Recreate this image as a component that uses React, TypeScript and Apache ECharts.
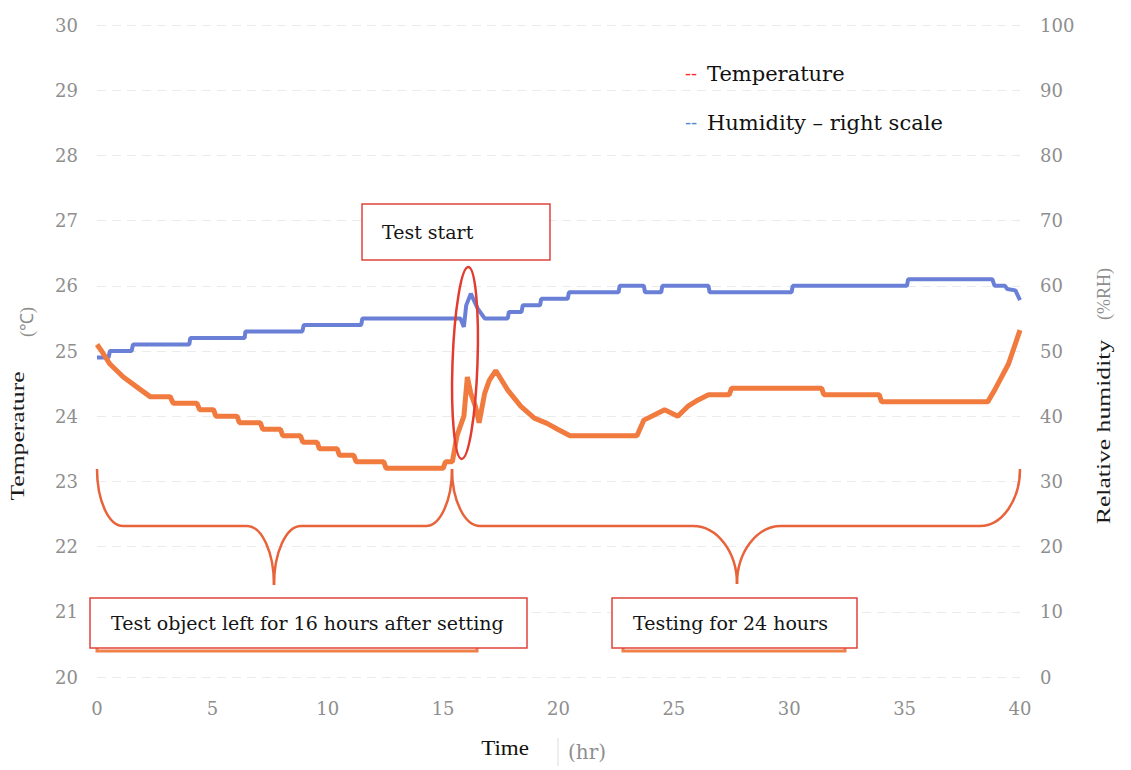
import React, { useEffect, useRef } from "react";
import * as echarts from "echarts";

// ---- data ----
const xTickLabels = ["0", "5", "10", "15", "20", "25", "30", "35", "40"];

const tempTime = [
  0, 0.2, 0.56, 1.14, 1.72, 2.3, 3.17, 3.3, 4.33, 4.45, 5.05, 5.15, 6.07, 6.17, 7.08, 7.18, 7.95,
  8.05, 8.82, 8.92, 9.54, 9.64, 10.41, 10.51, 11.13, 11.23, 12.43, 12.53, 15.0, 15.1, 15.4, 15.6,
  15.9, 16.05, 16.2, 16.4, 16.56, 16.8, 17.0, 17.28, 17.8, 18.37, 18.95, 19.5, 19.96, 20.5, 23.4,
  23.7, 24.15, 24.6, 25.17, 25.6, 26.05, 26.5, 27.4, 27.5, 31.4, 31.5, 33.9, 34.0, 38.6, 38.9,
  39.5, 40,
];
const tempValue = [
  25.1, 25.0, 24.8, 24.6, 24.45, 24.3, 24.3, 24.2, 24.2, 24.1, 24.1, 24.0, 24.0, 23.9, 23.9, 23.8,
  23.8, 23.7, 23.7, 23.6, 23.6, 23.5, 23.5, 23.4, 23.4, 23.3, 23.3, 23.2, 23.2, 23.3, 23.3, 23.7,
  24.0, 24.6, 24.35, 24.15, 23.9, 24.35, 24.55, 24.7, 24.4, 24.15, 23.97, 23.89, 23.8, 23.7, 23.7,
  23.94, 24.02, 24.1, 24.0, 24.15, 24.25, 24.33, 24.33, 24.43, 24.43, 24.33, 24.33, 24.22, 24.22,
  24.4, 24.8, 25.32,
];

const humTime = [
  0, 0.5, 0.56, 1.5, 1.56, 4.0, 4.04, 6.4, 6.43, 8.9, 8.96, 11.45, 11.5, 15.75, 15.9, 16.0, 16.2,
  16.5, 16.8, 17.8, 17.85, 18.4, 18.45, 19.2, 19.25, 20.4, 20.45, 22.6, 22.65, 23.7, 23.75, 24.45,
  24.5, 26.5, 26.55, 30.1, 30.15, 35.1, 35.15, 38.8, 38.9, 39.35, 39.45, 39.8, 40,
];
const humValue = [
  49, 49, 50, 50, 51, 51, 52, 52, 53, 53, 54, 54, 55, 55, 53.7, 57, 58.8, 56.5, 55, 55, 56, 56, 57,
  57, 58, 58, 59, 59, 60, 60, 59, 59, 60, 60, 59, 59, 60, 60, 61, 61, 60, 60, 59.5, 59.3, 57.8,
];

const legendLabels = ["Temperature", "Humidity \u2013 right scale"];
const noteTexts = [
  "Test start",
  "Test object left for 16 hours after setting",
  "Testing for 24 hours",
];

const SERIF = "DejaVu Serif";
const TIMES = "Liberation Serif";
const GRAY = "#8e8e8e";

function brace(
  xL: number, xR: number, xTip: number,
  yTop: number, yMid: number, yTip: number,
  rL: number, rR: number, rTip: number, color: string
) {
  const k = 0.55;
  const style = { stroke: color, lineWidth: 2.5, fill: null as any };
  const dy = yMid - yTop;
  const dt = yTip - yMid;
  return [
    { type: "bezierCurve", z: 50, shape: { x1: xL, y1: yTop, cpx1: xL, cpy1: yTop + k * dy, cpx2: xL + (1 - k) * rL, cpy2: yMid, x2: xL + rL, y2: yMid }, style },
    { type: "line", z: 50, shape: { x1: xL + rL, y1: yMid, x2: xTip - rTip, y2: yMid }, style },
    { type: "bezierCurve", z: 50, shape: { x1: xTip - rTip, y1: yMid, cpx1: xTip - rTip + k * rTip, cpy1: yMid, cpx2: xTip, cpy2: yTip - k * dt, x2: xTip, y2: yTip }, style },
    { type: "bezierCurve", z: 50, shape: { x1: xTip, y1: yTip, cpx1: xTip, cpy1: yTip - k * dt, cpx2: xTip + rTip - k * rTip, cpy2: yMid, x2: xTip + rTip, y2: yMid }, style },
    { type: "line", z: 50, shape: { x1: xTip + rTip, y1: yMid, x2: xR - rR, y2: yMid }, style },
    { type: "bezierCurve", z: 50, shape: { x1: xR - rR, y1: yMid, cpx1: xR - (1 - k) * rR, cpy1: yMid, cpx2: xR, cpy2: yTop + k * dy, x2: xR, y2: yTop }, style },
  ];
}

function box(x: number, y: number, w: number, h: number, text: string, tx: number) {
  return [
    { type: "rect", z: 60, shape: { x, y, width: w, height: h }, style: { fill: "#ffffff", stroke: "#e0443c", lineWidth: 1.5 } },
    { type: "text", z: 61, x: tx, y: y + h / 2, style: { text, fill: "#151515", fontSize: 19, fontFamily: SERIF, align: "left", verticalAlign: "middle" } },
  ];
}

export default function App() {
  const ref = useRef<HTMLDivElement>(null);
  useEffect(() => {
    const chart = echarts.init(ref.current!, null, { renderer: "svg" });
    const labelStyle = { color: GRAY, fontFamily: SERIF, fontSize: 18 };
    chart.setOption({
      animation: false,
      backgroundColor: "#ffffff",
      grid: { left: 97, right: 111, top: 25, bottom: 93 },
      xAxis: {
        type: "value", min: 0, max: 40, interval: 5,
        axisLine: { show: false }, axisTick: { show: false }, splitLine: { show: false },
        axisLabel: { ...labelStyle, margin: 22, formatter: (v: number) => xTickLabels[Math.round(v / 5)] ?? String(v) },
      },
      yAxis: [
        {
          type: "value", min: 20, max: 30, interval: 1,
          axisLine: { show: false }, axisTick: { show: false },
          splitLine: { show: true, lineStyle: { color: "#ebebeb", type: [9, 6], width: 1.2 } },
          axisLabel: { ...labelStyle, margin: 19 },
        },
        {
          type: "value", min: 0, max: 100, interval: 10, position: "right",
          axisLine: { show: false }, axisTick: { show: false }, splitLine: { show: false },
          axisLabel: { ...labelStyle, margin: 20 },
        },
      ],
      series: [
        {
          type: "line", name: "Temperature", yAxisIndex: 0, showSymbol: false, z: 3,
          data: tempTime.map((t, i) => [t, tempValue[i]]),
          lineStyle: { color: "#f17a3f", width: 5 },
        },
        {
          type: "line", name: "Humidity", yAxisIndex: 1, showSymbol: false, z: 2,
          data: humTime.map((t, i) => [t, humValue[i]]),
          lineStyle: { color: "#6a7fd6", width: 4 },
        },
      ],
    });

    const graphics: any[] = [
      // legend
      { type: "text", z: 70, x: 685, y: 73, style: { text: "--", fill: "#ff2a2a", fontSize: 18, fontFamily: SERIF, verticalAlign: "middle" } },
      { type: "text", z: 70, x: 707, y: 74, style: { text: legendLabels[0], fill: "#111", fontSize: 21, fontFamily: SERIF, verticalAlign: "middle" } },
      { type: "text", z: 70, x: 685, y: 122, style: { text: "--", fill: "#4f86d6", fontSize: 18, fontFamily: SERIF, verticalAlign: "middle" } },
      { type: "text", z: 70, x: 707, y: 123, style: { text: legendLabels[1], fill: "#111", fontSize: 21, fontFamily: SERIF, verticalAlign: "middle" } },
      // axis names
      { type: "text", z: 70, x: 18, y: 436, rotation: Math.PI / 2, scaleX: 1.35, style: { text: "Temperature", fill: "#1a1a1a", fontSize: 19, fontFamily: TIMES, align: "center", verticalAlign: "middle" } },
      { type: "text", z: 70, x: 27, y: 322, rotation: Math.PI / 2, style: { text: "(\u2103)", fill: GRAY, fontSize: 18, fontFamily: TIMES, align: "center", verticalAlign: "middle" } },
      { type: "text", z: 70, x: 1104, y: 432, rotation: Math.PI / 2, scaleX: 1.35, style: { text: "Relative humidity", fill: "#1a1a1a", fontSize: 19, fontFamily: TIMES, align: "center", verticalAlign: "middle" } },
      { type: "text", z: 70, x: 1104, y: 294, rotation: Math.PI / 2, style: { text: "(%RH)", fill: GRAY, fontSize: 18, fontFamily: TIMES, align: "center", verticalAlign: "middle" } },
      { type: "text", z: 70, x: 505, y: 749, scaleX: 1.15, style: { text: "Time", fill: "#111", fontSize: 20, fontFamily: TIMES, align: "center", verticalAlign: "middle" } },
      { type: "line", z: 70, shape: { x1: 558, y1: 738, x2: 558, y2: 766 }, style: { stroke: "#dddddd", lineWidth: 1 } },
      { type: "text", z: 70, x: 587, y: 752, style: { text: "(hr)", fill: GRAY, fontSize: 20, fontFamily: SERIF, align: "center", verticalAlign: "middle" } },
      // ellipse around test start
      { type: "ellipse", z: 55, x: 465, y: 363, originX: 0, originY: 0, rotation: -0.035, shape: { cx: 0, cy: 0, rx: 12.5, ry: 96 }, style: { fill: null, stroke: "#e23b2f", lineWidth: 2.5 } },
      // braces
      ...brace(97, 452, 274, 469, 526, 585, 26, 26, 27, "#e8623a"),
      ...brace(452, 1020, 737, 469, 526, 584, 28, 40, 44, "#e8623a"),
      // orange frames behind note boxes
      { type: "rect", z: 58, shape: { x: 97, y: 600, width: 380, height: 51 }, style: { fill: null, stroke: "#f0804a", lineWidth: 3 } },
      { type: "rect", z: 58, shape: { x: 623, y: 600, width: 222, height: 51 }, style: { fill: null, stroke: "#f0804a", lineWidth: 3 } },
      ...box(362, 204, 188, 56, noteTexts[0], 382),
      ...box(90, 598, 437, 50, noteTexts[1], 111),
      ...box(612, 598, 245, 50, noteTexts[2], 633),
    ];
    chart.setOption({ graphic: graphics });
    return () => chart.dispose();
  }, []);
  return (
    <div
      ref={ref}
      style={{ position: "fixed", left: 0, top: 0, width: 1131, height: 770, background: "#fff" }}
    />
  );
}
